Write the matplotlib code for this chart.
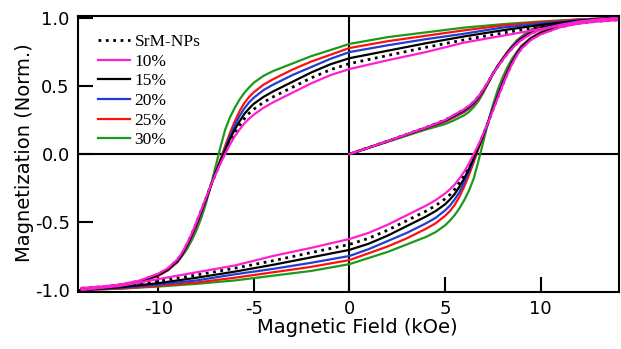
import numpy as np
import matplotlib
matplotlib.use("Agg")
import matplotlib.pyplot as plt

# ---------------- data ----------------
labels = ["SrM-NPs", "10%", "15%", "20%", "25%", "30%"]
colors = ["black", "#ff1fd2", "black", "#1f3fd0", "#ff1010", "#1a9a1a"]
styles = [":", "-", "-", "-", "-", "-"]

# descending branch field values (kOe), from +14 to -14
H_desc = [14, 12, 10, 8, 6, 4, 2, 0, -1, -2, -3, -4, -4.5, -5, -5.25, -5.5, -5.75, -6, -6.25, -6.5,
          -6.75, -7, -7.25, -7.5, -7.75, -8, -8.25, -8.5, -8.75, -9, -9.5, -10, -11, -12, -13, -14]
M_desc_srm = [1.0, 0.975, 0.935, 0.89, 0.84, 0.785, 0.725, 0.665, 0.62, 0.56, 0.49, 0.42, 0.38, 0.33, 0.30, 0.26,
              0.21, 0.155, 0.09, 0.015, -0.06, -0.145, -0.23, -0.325, -0.415, -0.505, -0.59, -0.665, -0.73, -0.78,
              -0.845, -0.885, -0.935, -0.962, -0.977, -0.987]
M_desc_10 = [1.0, 0.97, 0.92, 0.87, 0.82, 0.75, 0.69, 0.625, 0.58, 0.52, 0.45, 0.38, 0.34, 0.29, 0.26, 0.225,
             0.18, 0.13, 0.07, 0.0, -0.07, -0.15, -0.23, -0.32, -0.41, -0.50, -0.585, -0.66, -0.725, -0.775,
             -0.84, -0.88, -0.932, -0.96, -0.975, -0.985]
M_desc_15 = [1.0, 0.98, 0.95, 0.91, 0.865, 0.815, 0.76, 0.705, 0.66, 0.60, 0.53, 0.46, 0.42, 0.37, 0.335, 0.295,
             0.24, 0.18, 0.11, 0.03, -0.05, -0.14, -0.23, -0.33, -0.42, -0.51, -0.595, -0.67, -0.735, -0.785,
             -0.85, -0.89, -0.94, -0.965, -0.98, -0.99]
M_desc_20 = [1.0, 0.985, 0.96, 0.93, 0.885, 0.845, 0.80, 0.75, 0.70, 0.64, 0.58, 0.51, 0.47, 0.415, 0.38, 0.335,
             0.28, 0.21, 0.13, 0.04, -0.05, -0.14, -0.235, -0.335, -0.43, -0.52, -0.60, -0.675, -0.74, -0.79,
             -0.85, -0.89, -0.94, -0.965, -0.98, -0.99]
M_desc_25 = [1.0, 0.99, 0.97, 0.945, 0.91, 0.87, 0.83, 0.78, 0.73, 0.68, 0.62, 0.55, 0.51, 0.455, 0.42, 0.375,
             0.315, 0.24, 0.155, 0.06, -0.04, -0.135, -0.235, -0.34, -0.435, -0.53, -0.61, -0.68, -0.745, -0.795,
             -0.855, -0.895, -0.945, -0.97, -0.982, -0.99]
M_desc_30 = [1.0, 0.99, 0.975, 0.955, 0.93, 0.895, 0.86, 0.81, 0.765, 0.72, 0.665, 0.61, 0.575, 0.525, 0.49, 0.45,
             0.40, 0.34, 0.27, 0.18, 0.05, -0.09, -0.23, -0.36, -0.47, -0.56, -0.635, -0.70, -0.75, -0.795,
             -0.855, -0.895, -0.945, -0.97, -0.982, -0.99]

# ascending branch field values (kOe), from -14 to +14
H_asc = [-14, -12, -10, -8, -6, -4, -2, 0, 1, 2, 3, 4, 4.5, 5, 5.25, 5.5, 5.75, 6, 6.25, 6.5,
         6.75, 7, 7.25, 7.5, 7.75, 8, 8.25, 8.5, 8.75, 9, 9.5, 10, 11, 12, 13, 14]
M_asc_srm = [-1.0, -0.975, -0.935, -0.89, -0.84, -0.785, -0.725, -0.665, -0.62, -0.56, -0.49, -0.42, -0.38, -0.33,
             -0.30, -0.26, -0.21, -0.155, -0.09, -0.015, 0.06, 0.145, 0.23, 0.325, 0.415, 0.505, 0.59, 0.665,
             0.73, 0.78, 0.845, 0.885, 0.935, 0.962, 0.977, 0.987]
M_asc_10 = [-1.0, -0.97, -0.92, -0.87, -0.82, -0.75, -0.69, -0.625, -0.58, -0.52, -0.45, -0.38, -0.34, -0.29,
            -0.26, -0.225, -0.18, -0.13, -0.07, 0.0, 0.07, 0.15, 0.23, 0.32, 0.41, 0.50, 0.585, 0.66,
            0.725, 0.775, 0.84, 0.88, 0.932, 0.96, 0.975, 0.985]
M_asc_15 = [-1.0, -0.98, -0.95, -0.91, -0.865, -0.815, -0.76, -0.705, -0.66, -0.60, -0.53, -0.46, -0.42, -0.37,
            -0.335, -0.295, -0.24, -0.18, -0.11, -0.03, 0.05, 0.14, 0.23, 0.33, 0.42, 0.51, 0.595, 0.67,
            0.735, 0.785, 0.85, 0.89, 0.94, 0.965, 0.98, 0.99]
M_asc_20 = [-1.0, -0.985, -0.96, -0.93, -0.885, -0.845, -0.80, -0.75, -0.70, -0.64, -0.58, -0.51, -0.47, -0.415,
            -0.38, -0.335, -0.28, -0.21, -0.13, -0.04, 0.05, 0.14, 0.235, 0.335, 0.43, 0.52, 0.60, 0.675,
            0.74, 0.79, 0.85, 0.89, 0.94, 0.965, 0.98, 0.99]
M_asc_25 = [-1.0, -0.99, -0.97, -0.945, -0.91, -0.87, -0.83, -0.78, -0.73, -0.68, -0.62, -0.55, -0.51, -0.455,
            -0.42, -0.375, -0.315, -0.24, -0.155, -0.06, 0.04, 0.135, 0.235, 0.34, 0.435, 0.53, 0.61, 0.68,
            0.745, 0.795, 0.855, 0.895, 0.945, 0.97, 0.982, 0.99]
M_asc_30 = [-1.0, -0.99, -0.975, -0.955, -0.93, -0.895, -0.86, -0.81, -0.765, -0.72, -0.665, -0.61, -0.575, -0.525,
            -0.49, -0.45, -0.40, -0.34, -0.27, -0.18, -0.05, 0.09, 0.23, 0.36, 0.47, 0.56, 0.635, 0.70,
            0.75, 0.795, 0.855, 0.895, 0.945, 0.97, 0.982, 0.99]

# initial magnetization curve
H_init = [0, 1, 2, 3, 4, 5, 5.5, 6, 6.25, 6.5, 6.75, 7, 7.25, 7.5, 7.75, 8, 8.25, 8.5, 8.75, 9, 9.5, 10,
          11, 12, 13, 14]
M_init_srm = [0, 0.047, 0.095, 0.145, 0.195, 0.25, 0.287, 0.327, 0.352, 0.383, 0.423, 0.473, 0.528, 0.59, 0.642,
              0.692, 0.738, 0.778, 0.813, 0.843, 0.888, 0.918, 0.952, 0.976, 0.99, 1.0]
M_init_10 = [0, 0.047, 0.095, 0.145, 0.195, 0.25, 0.29, 0.33, 0.355, 0.385, 0.425, 0.475, 0.53, 0.59, 0.64,
             0.69, 0.735, 0.775, 0.81, 0.84, 0.885, 0.915, 0.95, 0.975, 0.99, 1.0]
M_init_15 = [0, 0.047, 0.095, 0.144, 0.194, 0.247, 0.284, 0.323, 0.348, 0.38, 0.42, 0.47, 0.527, 0.59, 0.643,
             0.694, 0.741, 0.782, 0.818, 0.848, 0.894, 0.925, 0.958, 0.98, 0.992, 1.0]
M_init_20 = [0, 0.047, 0.094, 0.143, 0.192, 0.243, 0.279, 0.317, 0.342, 0.373, 0.413, 0.465, 0.524, 0.59, 0.644,
             0.696, 0.743, 0.786, 0.823, 0.853, 0.9, 0.932, 0.962, 0.983, 0.994, 1.0]
M_init_25 = [0, 0.046, 0.093, 0.141, 0.189, 0.237, 0.272, 0.309, 0.334, 0.365, 0.405, 0.458, 0.52, 0.59, 0.646,
             0.698, 0.746, 0.79, 0.828, 0.858, 0.906, 0.938, 0.966, 0.986, 0.995, 1.0]
M_init_30 = [0, 0.045, 0.09, 0.135, 0.18, 0.22, 0.25, 0.285, 0.31, 0.345, 0.39, 0.45, 0.52, 0.59, 0.65,
             0.70, 0.75, 0.795, 0.835, 0.865, 0.915, 0.945, 0.97, 0.99, 0.995, 1.0]

x_ticks = [-10, -5, 0, 5, 10]
y_ticks = [-1.0, -0.5, 0.0, 0.5, 1.0]

desc = [M_desc_srm, M_desc_10, M_desc_15, M_desc_20, M_desc_25, M_desc_30]
asc = [M_asc_srm, M_asc_10, M_asc_15, M_asc_20, M_asc_25, M_asc_30]
init = [M_init_srm, M_init_10, M_init_15, M_init_20, M_init_25, M_init_30]

# ---------------- figure ----------------
fig = plt.figure(figsize=(6.21, 3.49), dpi=100)
ax = fig.add_axes([0.1256, 0.1633, 0.8712, 0.7907])

ax.axhline(0, color="black", lw=1.5, zorder=1)
ax.axvline(0, color="black", lw=1.5, zorder=1)

draw_order = [5, 4, 3, 2, 0, 1]
handles = {}
for i in draw_order:
    lw = 2.0 if styles[i] == ":" else 1.6
    kw = dict(color=colors[i], ls=styles[i], lw=lw, zorder=2, solid_joinstyle="round")
    ln, = ax.plot(H_desc, desc[i], label=labels[i], **kw)
    ax.plot(H_asc, asc[i], **kw)
    ax.plot(H_init, init[i], **kw)
    handles[i] = ln

ax.set_xlim(-14.2, 14.1)
ax.set_ylim(-1.015, 1.015)
ax.set_xticks(x_ticks)
ax.set_yticks(y_ticks)
ax.set_xticklabels([str(t) for t in x_ticks])
ax.set_yticklabels([f"{t:.1f}" for t in y_ticks])
ax.tick_params(direction="in", length=10.5, width=1.5, labelsize=13, pad=6)
for s in ax.spines.values():
    s.set_linewidth(1.5)

ax.set_xlabel("Magnetic Field (kOe)", fontsize=14)
ax.xaxis.set_label_coords(0.517, -0.095)
ax.set_ylabel("Magnetization (Norm.)", fontsize=14)
ax.yaxis.set_label_coords(-0.082, 0.505)

leg = ax.legend([handles[i] for i in range(6)], labels, loc="upper left",
                bbox_to_anchor=(0.037, 0.935), frameon=False, borderpad=0, borderaxespad=0,
                handlelength=1.85, handletextpad=0.25, labelspacing=0.2,
                prop={"family": "Liberation Serif", "size": 12.5})

fig.savefig("out.png", dpi=100)
